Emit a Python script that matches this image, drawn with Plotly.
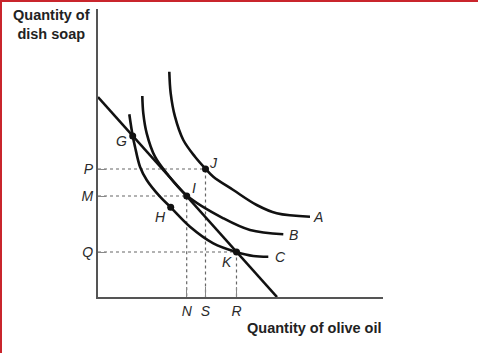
import plotly.graph_objects as go

# ---- data (x = quantity of olive oil, y = quantity of dish soap) ----
curve_a_x = [7.13, 7.27, 7.70, 8.53, 9.70, 10.75, 11.53, 13.53, 15.87, 17.87, 21.2]
curve_a_y = [22.53, 20.37, 18.03, 15.70, 14.03, 12.83, 12.03, 10.70, 9.20, 8.37, 8.03]

curve_b_x = [4.43, 4.53, 4.87, 5.70, 6.87, 8.87, 12.53, 15.20, 18.53]
curve_b_y = [20.10, 18.37, 16.37, 14.03, 12.37, 10.15, 7.87, 6.70, 6.27]

curve_c_x = [3.13, 3.47, 3.70, 4.20, 4.87, 6.20, 7.27, 9.20, 11.53, 13.85, 15.53, 17.03]
curve_c_y = [18.27, 16.10, 15.03, 13.03, 11.70, 10.03, 8.97, 7.03, 5.37, 4.50, 4.10, 4.03]

budget_x = [0, 17.9]
budget_y = [20, 0]

point_names = ["G", "H", "I", "J", "K"]
point_x = [3.47, 7.27, 8.87, 10.75, 13.85]
point_y = [16.10, 8.97, 10.10, 12.80, 4.50]

y_tick_vals = [12.8, 10.1, 4.5]
y_tick_text = ["P", "M", "Q"]
x_tick_vals = [8.87, 10.75, 13.85]
x_tick_text = ["N", "S", "R"]

FONT = "Liberation Sans, Arial, Helvetica, sans-serif"
INK = "#111111"
GREY = "#555555"
LABEL = "#2a2a2a"

fig = go.Figure()

# dotted guide lines
dot = dict(color="#666666", width=1.2, dash="dot")
for i in (3, 2, 4):
    fig.add_trace(go.Scatter(x=[0, point_x[i], point_x[i]], y=[point_y[i], point_y[i], 0],
                             mode="lines", line=dot, hoverinfo="skip"))

# indifference curves
for cx, cy in [(curve_a_x, curve_a_y), (curve_b_x, curve_b_y), (curve_c_x, curve_c_y)]:
    fig.add_trace(go.Scatter(x=cx, y=cy, mode="lines",
                             line=dict(color=INK, width=2.6, shape="spline", smoothing=1.0),
                             hoverinfo="skip"))

# budget line
fig.add_trace(go.Scatter(x=budget_x, y=budget_y, mode="lines",
                         line=dict(color=INK, width=2.6), hoverinfo="skip"))

# points
fig.add_trace(go.Scatter(x=point_x, y=point_y, mode="markers",
                         marker=dict(color=INK, size=7), hoverinfo="skip"))

lab_font = dict(family=FONT, size=14, color=LABEL, style="italic")

# point labels
label_pos = {"G": (2.37, 15.6), "H": (6.2, 7.97), "I": (9.63, 10.9),
             "J": (11.53, 13.4), "K": (12.93, 3.53)}
for name in point_names:
    lx, ly = label_pos[name]
    fig.add_annotation(x=lx, y=ly, xref="x", yref="y", text=name, showarrow=False,
                       font=lab_font, xanchor="center", yanchor="middle")

# curve labels
for name, (lx, ly) in {"A": (22.0, 8.0), "B": (19.5, 6.2), "C": (18.2, 4.0)}.items():
    fig.add_annotation(x=lx, y=ly, xref="x", yref="y", text=name, showarrow=False,
                       font=lab_font, xanchor="center", yanchor="middle")

# axis end labels F, L, 0
fig.add_annotation(x=-1.1, y=budget_y[0], xref="x", yref="y", text="F", showarrow=False,
                   font=lab_font, xanchor="center", yanchor="middle")
fig.add_annotation(x=budget_x[1], y=-1.1, xref="x", yref="y", text="L", showarrow=False,
                   font=lab_font, xanchor="center", yanchor="middle")
fig.add_annotation(x=-1.1, y=-1.1, xref="x", yref="y", text="0", showarrow=False,
                   font=dict(family=FONT, size=14, color=LABEL),
                   xanchor="center", yanchor="middle")

# axis titles
title_font = dict(family=FONT, size=14.5, color="#222222", weight="bold")
fig.add_annotation(x=(51.5 - 98) / 285, y=(297 - 24.5) / 288, xref="paper", yref="paper",
                   text="Quantity of<br>dish soap", showarrow=False, font=title_font,
                   xanchor="center", yanchor="middle", align="center")
fig.add_annotation(x=(384 - 98) / 285, y=(297 - 328) / 288, xref="paper", yref="paper",
                   text="Quantity of olive oil", showarrow=False, font=title_font,
                   xanchor="right", yanchor="middle")

# red frame on the top and left edges
def px(v):
    return (v - 98) / 285
def py(v):
    return (297 - v) / 288
red = "#c9252c"
fig.add_shape(type="line", xref="paper", yref="paper",
              x0=px(1), x1=px(1), y0=py(0), y1=py(353), line=dict(color=red, width=2))
fig.add_shape(type="line", xref="paper", yref="paper",
              x0=px(0), x1=px(478), y0=py(1), y1=py(1), line=dict(color=red, width=2))

tick_font = dict(family=FONT, size=14, color=LABEL, style="italic")
fig.update_xaxes(range=[0, 28.5], showgrid=False, zeroline=False, showline=True,
                 linecolor=GREY, linewidth=2, ticks="inside", ticklen=10, tickwidth=1,
                 tickcolor="#888888", tickvals=x_tick_vals, ticktext=x_tick_text,
                 tickfont=tick_font, fixedrange=True)
fig.update_yaxes(range=[0, 28.8], showgrid=False, zeroline=False, showline=True,
                 linecolor=GREY, linewidth=2, ticks="inside", ticklen=8, tickwidth=1,
                 tickcolor="#888888", tickvals=y_tick_vals, ticktext=y_tick_text,
                 tickfont=tick_font, fixedrange=True)

fig.update_layout(width=479, height=353, margin=dict(l=98, r=96, t=9, b=56),
                  paper_bgcolor="white", plot_bgcolor="white", showlegend=False)

fig.write_html("out.html")
